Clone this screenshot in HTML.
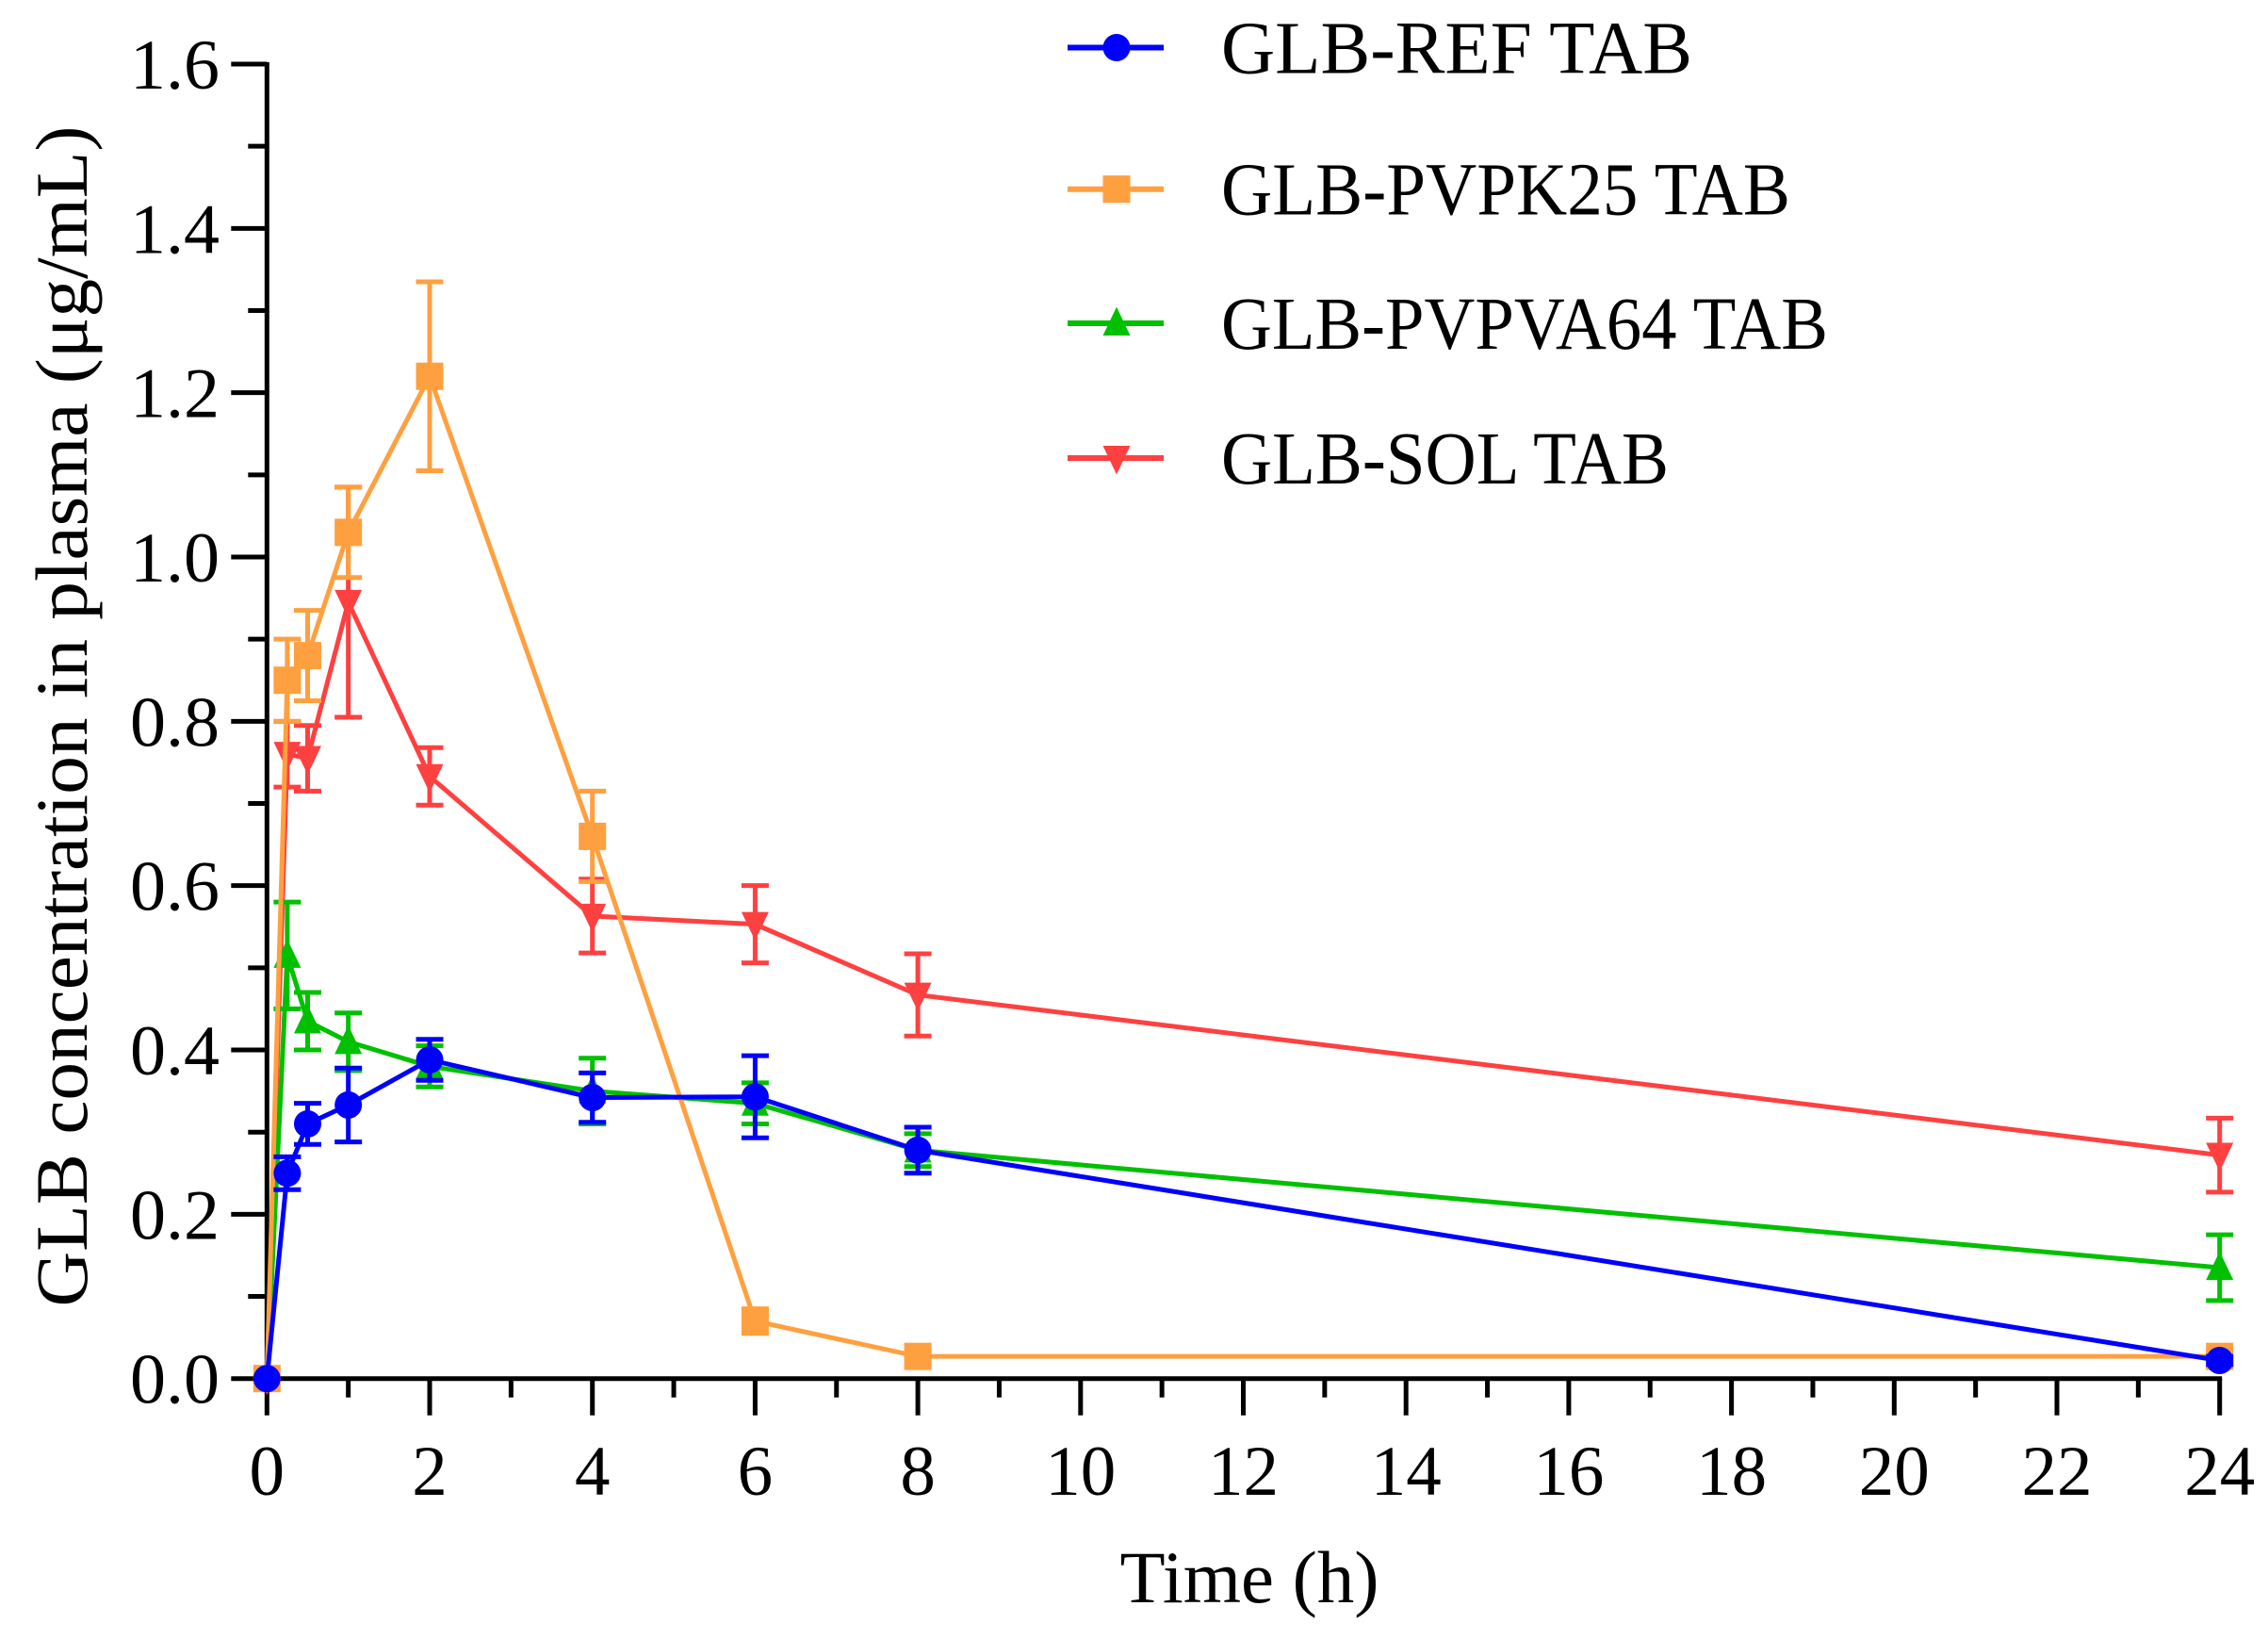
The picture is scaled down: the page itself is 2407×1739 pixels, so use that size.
<!DOCTYPE html>
<html><head><meta charset="utf-8"><style>
html,body{margin:0;padding:0;background:#fff;}
svg{display:block;font-family:"Liberation Serif","Times New Roman",serif;}
</style></head><body>
<svg id="chart" width="2407" height="1739" viewBox="0 0 2407 1739" xmlns="http://www.w3.org/2000/svg">
<g id="grid"></g>
<g id="series"></g>
<g id="legend"></g>
<text transform="translate(92,760) rotate(-90)" text-anchor="middle" font-size="78" textLength="1253" lengthAdjust="spacingAndGlyphs">GLB concentration in plasma (μg/mL)</text>
<text x="1326" y="1700" text-anchor="middle" font-size="78" textLength="275" lengthAdjust="spacingAndGlyphs">Time (h)</text>
</svg>
<script>
const times = [0, 0.25, 0.5, 1, 2, 4, 6, 8, 24];
const refVals = [0, 0.25, 0.31, 0.333, 0.388, 0.342, 0.343, 0.278, 0.022];
const refErr = [0, 0.02, 0.025, 0.045, 0.025, 0.03, 0.05, 0.028, 0.005];
const k25Vals = [0, 0.85, 0.88, 1.03, 1.22, 0.66, 0.07, 0.027, 0.027];
const k25Err = [0, 0.05, 0.055, 0.055, 0.115, 0.055, 0.015, 0.005, 0.005];
const va64Vals = [0, 0.515, 0.435, 0.41, 0.38, 0.35, 0.335, 0.278, 0.135];
const va64Err = [0, 0.065, 0.035, 0.035, 0.025, 0.04, 0.025, 0.02, 0.04];
const solVals = [0, 0.76, 0.755, 0.945, 0.733, 0.563, 0.553, 0.467, 0.272];
const solErr = [0, 0.04, 0.04, 0.14, 0.035, 0.045, 0.047, 0.05, 0.045];
const xTicks = [0,2,4,6,8,10,12,14,16,18,20,22,24];
const yTicks = [0,0.2,0.4,0.6,0.8,1.0,1.2,1.4,1.6];
const yTickLabels = ["0.0","0.2","0.4","0.6","0.8","1.0","1.2","1.4","1.6"];
const seriesNames = ["GLB-REF TAB","GLB-PVPK25 TAB","GLB-PVPVA64 TAB","GLB-SOL TAB"];
const legendWidths = [500, 604, 644, 475];

const NS="http://www.w3.org/2000/svg";
const X0=283.3, XS=86.35, Y0=1462.7, YS=871.7;
function xs(t){return X0+XS*t;}
function ys(v){return Y0-YS*v;}
function mk(tag,attrs,parent){const e=document.createElementNS(NS,tag);for(const k in attrs)e.setAttribute(k,attrs[k]);parent.appendChild(e);return e;}

const ax=document.getElementById('grid');
let l=mk('line',{x1:X0,y1:ys(1.6)-2,x2:X0,y2:Y0+2.5,stroke:'#000','stroke-width':5},ax);


l=mk('line',{x1:X0-2.5,y1:Y0,x2:xs(24)+2.5,y2:Y0,stroke:'#000','stroke-width':5},ax);


for(let i=0;i<=16;i++){
  const v=i*0.1, major=i%2===0;
  const t=mk('line',{x1:X0-(major?38:20),y1:ys(v),x2:X0,y2:ys(v),stroke:'#000','stroke-width':5},ax);
  
  
}
yTicks.forEach((v,i)=>{
  const t=mk('text',{x:233,y:ys(v)+26,'text-anchor':'end','font-size':75,textLength:95,lengthAdjust:'spacingAndGlyphs'},ax);
  t.textContent=yTickLabels[i];
  
  
});
for(let h=0;h<=24;h++){
  const major=h%2===0;
  const t=mk('line',{x1:xs(h),y1:Y0,x2:xs(h),y2:Y0+(major?39:20),stroke:'#000','stroke-width':5},ax);
  
  
}
xTicks.forEach(h=>{
  const t=mk('text',{x:xs(h),y:1586,'text-anchor':'middle','font-size':75},ax);
  t.textContent=String(h);
  
  
});

function marker(g,type,cx,cy,color,s){
  let m;
  if(type==='circle') m=mk('circle',{cx:cx,cy:cy,r:s*0.5,fill:color},g);
  else if(type==='square') m=mk('rect',{x:cx-s/2,y:cy-s/2,width:s,height:s,fill:color},g);
  else if(type==='up') m=mk('polygon',{points:`${cx},${cy-s*0.6} ${cx-s/2},${cy+s*0.45} ${cx+s/2},${cy+s*0.45}`,fill:color},g);
  else m=mk('polygon',{points:`${cx-s/2},${cy-s*0.45} ${cx+s/2},${cy-s*0.45} ${cx},${cy+s*0.6}`,fill:color},g);
  return m;
}
const defs=[
  {name:'sol',vals:solVals,err:solErr,color:'#ff4040',type:'down'},
  {name:'pvpva64',vals:va64Vals,err:va64Err,color:'#00c000',type:'up'},
  {name:'pvpk25',vals:k25Vals,err:k25Err,color:'#ffa040',type:'square'},
  {name:'ref',vals:refVals,err:refErr,color:'#0000ff',type:'circle'}
];
const sl=document.getElementById('series');
defs.forEach(d=>{
  const g=mk('g',{},sl);
  
  
  d.vals.forEach((v,i)=>{
    if(d.err[i]<=0)return;
    const x=xs(times[i]),y1=ys(v+d.err[i]),y2=ys(v-d.err[i]);
    const eb=mk('path',{d:`M${x},${y1}V${y2}M${x-14.5},${y1}H${x+14.5}M${x-14.5},${y2}H${x+14.5}`,stroke:d.color,'stroke-width':5,fill:'none'},g);
    
    
  });
  const pts=d.vals.map((v,i)=>xs(times[i])+','+ys(v)).join(' ');
  const pl=mk('polyline',{points:pts,stroke:d.color,'stroke-width':5,fill:'none'},g);
  
  
  d.vals.forEach((v,i)=>{
    const m=marker(g,d.type,xs(times[i]),ys(v),d.color,29);
    
    
  });
});

const lg=document.getElementById('legend');
const legOrder=[defs[3],defs[2],defs[1],defs[0]];
const legY=[50.5,200.7,343,486];
legOrder.forEach((d,i)=>{
  const g=mk('g',{},lg);
  
  
  mk('line',{x1:1133,y1:legY[i],x2:1235,y2:legY[i],stroke:d.color,'stroke-width':6},g);
  marker(g,d.type,1185,legY[i],d.color,29);
  const t=mk('text',{x:1296,y:legY[i]+27,'font-size':79,textLength:legendWidths[i],lengthAdjust:'spacingAndGlyphs'},g);
  t.textContent=seriesNames[i];
  
  
});
</script>
</body></html>
